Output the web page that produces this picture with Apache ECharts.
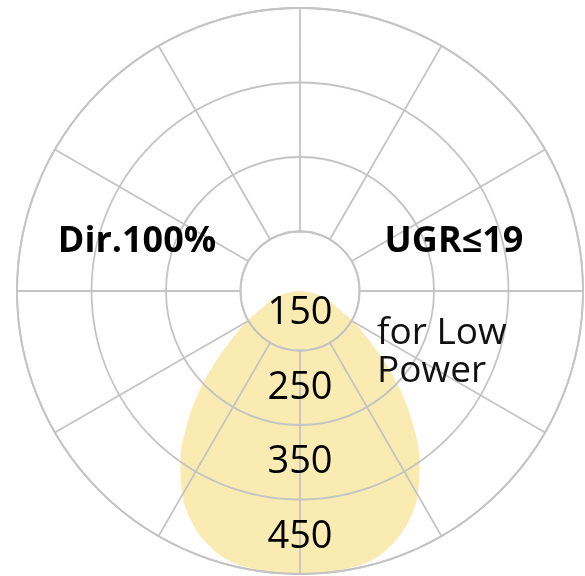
<!DOCTYPE html>
<html>
<head>
<meta charset="utf-8">
<script src="https://cdn.jsdelivr.net/npm/echarts@6/dist/echarts.min.js"></script>
<style>
html,body{margin:0;padding:0;background:#fff;}
#chart{width:585px;height:576px;}
</style>
</head>
<body>
<div id="chart"></div>
<script>
// Photometric curve: angle from nadir (deg) and intensity value
const angles = [-90,-85,-80,-75,-70,-65,-60,-55,-50,-45,-40,-35,-30,-25,-20,-15,-10,-5,0,5,10,15,20,25,30,35,40,45,50,55,60,65,70,75,80,85,90];
const values = [120,130,140,156,165,178,204,231,268,312,357,400,436,463,482,494,498,499,500,499,498,494,482,463,436,400,357,312,268,231,204,178,165,156,140,130,120];

// Radial scale labels and ring range
const scaleLabels = [150, 250, 350, 450];
const ringMin = 200, ringMax = 500, ringStep = 100;
const dataMin = 120;

const lineData = angles.map((a, i) => [values[i], a]);
const labelData = scaleLabels.map(v => [v, 0]);

const chart = echarts.init(document.getElementById('chart'), null, {renderer: 'canvas'});
const grey = '#c4c4c4';
const center = [300, 291];

chart.setOption({
  animation: false,
  backgroundColor: '#ffffff',
  polar: [
    {center: center, radius: [59.5, 283]},
    {center: center, radius: [0, 283]}
  ],
  angleAxis: [
    {
      polarIndex: 0, type: 'value', min: -180, max: 180, interval: 30, startAngle: 90,
      z: 10,
      axisLine: {show: true, lineStyle: {color: grey, width: 1.8}},
      axisTick: {show: false}, axisLabel: {show: false},
      splitLine: {show: true, lineStyle: {color: grey, width: 1.8}}
    },
    {
      polarIndex: 1, type: 'value', min: -180, max: 180, startAngle: 90,
      axisLine: {show: false}, axisTick: {show: false}, axisLabel: {show: false},
      splitLine: {show: false}
    }
  ],
  radiusAxis: [
    {
      polarIndex: 0, type: 'value', min: ringMin, max: ringMax, interval: ringStep,
      z: 10,
      axisLine: {show: false}, axisTick: {show: false}, axisLabel: {show: false},
      splitLine: {show: true, lineStyle: {color: grey, width: 1.8}}
    },
    {
      polarIndex: 1, type: 'value', min: dataMin, max: ringMax,
      axisLine: {show: false}, axisTick: {show: false}, axisLabel: {show: false},
      splitLine: {show: false}
    }
  ],
  series: [
    {
      type: 'line', coordinateSystem: 'polar', polarIndex: 1,
      data: lineData, smooth: 0.4, symbol: 'none', z: 2,
      lineStyle: {width: 0, color: '#f9ebb2'},
      areaStyle: {color: '#f9ebb2', opacity: 1}
    },
    {
      type: 'scatter', coordinateSystem: 'polar', polarIndex: 1,
      data: labelData, symbolSize: 1, z: 20,
      itemStyle: {opacity: 0},
      label: {
        show: true, position: 'inside', opacity: 1,
        formatter: p => String(p.value[0]),
        color: '#000', fontSize: 38, fontFamily: 'Open Sans', fontWeight: 'normal',
        textBorderWidth: 0
      }
    }
  ],
  graphic: [
    {type: 'text', x: 137, y: 242, z: 30, style: {text: 'Dir.100%', fill: '#000', font: 'bold 36px "Open Sans"', textAlign: 'center', textVerticalAlign: 'middle'}},
    {type: 'text', x: 454, y: 242, z: 30, style: {text: 'UGR≤19', fill: '#000', font: 'bold 36px "Open Sans"', textAlign: 'center', textVerticalAlign: 'middle'}},
    {type: 'text', x: 377, y: 333, z: 30, style: {text: 'for Low', fill: '#111', font: 'normal 37px "Open Sans"', textAlign: 'left', textVerticalAlign: 'middle'}},
    {type: 'text', x: 377, y: 371, z: 30, style: {text: 'Power', fill: '#111', font: 'normal 37px "Open Sans"', textAlign: 'left', textVerticalAlign: 'middle'}}
  ]
});
</script>
</body>
</html>
